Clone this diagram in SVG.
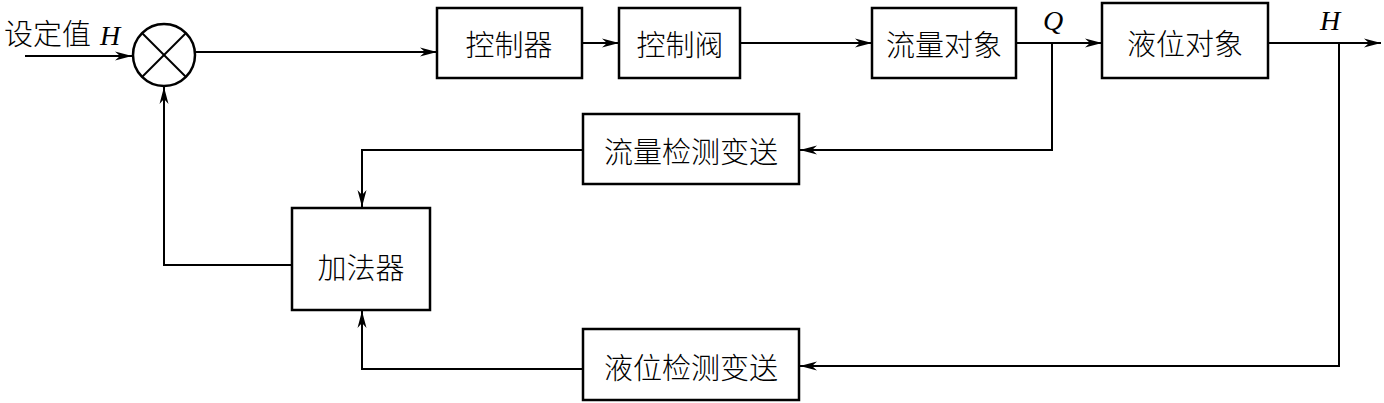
<svg xmlns="http://www.w3.org/2000/svg" width="1384" height="403" viewBox="0 0 1384 403">
<style>
.box{fill:#fff;stroke:#000;stroke-width:2.5}
.ln{fill:none;stroke:#000;stroke-width:2}
.t{font-family:"Noto Sans CJK SC","Noto Sans CJK JP",sans-serif;font-weight:300;font-size:29px;fill:#000;text-anchor:middle;dominant-baseline:central}
.v{font-family:"Liberation Serif",serif;font-style:italic;font-size:28px;fill:#000}
</style>
<defs>
<marker id="ah" markerWidth="18" markerHeight="10" refX="17" refY="5" orient="auto" markerUnits="userSpaceOnUse">
<path d="M0,0.5 L17,5 L0,9.5 L5,5 Z" fill="#000"/>
</marker>
</defs>
<g id="connectors">
<line class="ln" x1="25" y1="56" x2="132" y2="56" marker-end="url(#ah)"/>
<line class="ln" x1="196" y1="52" x2="437" y2="52" marker-end="url(#ah)"/>
<line class="ln" x1="582" y1="43" x2="619" y2="43" marker-end="url(#ah)"/>
<line class="ln" x1="740" y1="43" x2="872" y2="43" marker-end="url(#ah)"/>
<line class="ln" x1="1016" y1="43" x2="1102" y2="43" marker-end="url(#ah)"/>
<line class="ln" x1="1268" y1="43" x2="1381" y2="43" marker-end="url(#ah)"/>
<polyline class="ln" points="1052,43 1052,150 800,150" marker-end="url(#ah)"/>
<polyline class="ln" points="583,150 362,150 362,207" marker-end="url(#ah)"/>
<polyline class="ln" points="292,265 164,265 164,87" marker-end="url(#ah)"/>
<polyline class="ln" points="1339,43 1339,366 800,366" marker-end="url(#ah)"/>
<polyline class="ln" points="583,369 362,369 362,311" marker-end="url(#ah)"/>
</g>
<g id="setpoint">
<text x="4" y="45" style="font-family:'Noto Sans CJK SC',sans-serif;font-weight:300;font-size:29px">设定值</text>
<text class="v" x="100" y="45">H</text>
</g>
<g id="sum">
<circle cx="164" cy="55" r="31" fill="#fff" stroke="#000" stroke-width="2.5"/>
<line class="ln" x1="142" y1="33" x2="186" y2="77" stroke-width="1.5"/>
<line class="ln" x1="186" y1="33" x2="142" y2="77" stroke-width="1.5"/>
</g>
<g id="controller"><rect class="box" x="437" y="8" width="145" height="70"/><text class="t" x="509" y="43">控制器</text></g>
<g id="valve"><rect class="box" x="619" y="8" width="121" height="70"/><text class="t" x="680" y="43">控制阀</text></g>
<g id="flowobj"><rect class="box" x="872" y="8" width="144" height="70"/><text class="t" x="944" y="43">流量对象</text></g>
<g id="levelobj"><rect class="box" x="1102" y="3" width="166" height="75"/><text class="t" x="1185" y="42">液位对象</text></g>
<g id="flowmeas"><rect class="box" x="583" y="114" width="216" height="70"/><text class="t" x="691" y="150">流量检测变送</text></g>
<g id="adder"><rect class="box" x="292" y="208" width="138" height="102"/><text class="t" x="361" y="266">加法器</text></g>
<g id="levelmeas"><rect class="box" x="583" y="329" width="216" height="71"/><text class="t" x="691" y="366">液位检测变送</text></g>
<g id="labels">
<text class="v" x="1043" y="30">Q</text>
<text class="v" x="1320" y="30">H</text>
</g>
</svg>
